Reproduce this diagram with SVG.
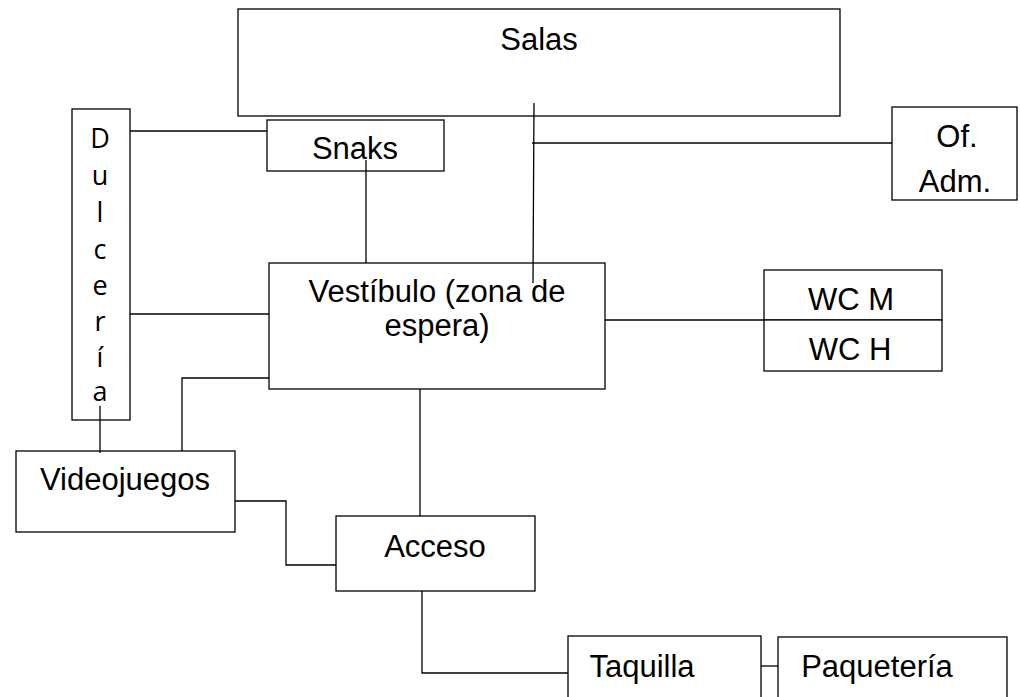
<svg xmlns="http://www.w3.org/2000/svg" width="1020" height="697" viewBox="0 0 1020 697">
<style>
.box{fill:#fff;stroke:#000;stroke-width:1.3}
.lbl{font-family:"Liberation Sans",Arial,sans-serif;font-size:31px;fill:#000;text-anchor:middle}
.v{font-family:"Open Sans","Liberation Sans",sans-serif;font-size:27px;fill:#000;text-anchor:middle}
.c{fill:none;stroke:#000;stroke-width:1.3}
</style>
<rect width="1020" height="697" fill="#fff"/>
<g id="salas"><rect class="box" x="238" y="9" width="602" height="107"/><text class="lbl" x="539" y="50">Salas</text></g>
<g id="snaks"><rect class="box" x="267" y="120" width="177" height="51"/><text class="lbl" x="355" y="159">Snaks</text></g>
<g id="dulceria"><rect class="box" x="72" y="109" width="58" height="311"/>
<text class="v" x="100" y="148">D</text><text class="v" x="100" y="185">u</text><text class="v" x="100" y="222">l</text><text class="v" x="100" y="259">c</text><text class="v" x="100" y="295">e</text><text class="v" x="100" y="331">r</text><text class="v" x="100" y="367">í</text><text class="v" x="100" y="401">a</text></g>
<g id="ofadm"><rect class="box" x="892" y="107" width="125" height="93"/><text class="lbl" x="957" y="147">Of.</text><text class="lbl" x="955" y="192">Adm.</text></g>
<g id="vestibulo"><rect class="box" x="269" y="263" width="336" height="126"/><text class="lbl" x="437" y="302">Vestíbulo (zona de</text><text class="lbl" x="437" y="336">espera)</text></g>
<g id="wcm"><rect class="box" x="764" y="270" width="178" height="50"/><text class="lbl" x="851" y="310">WC M</text></g>
<g id="wch"><rect class="box" x="764" y="320" width="178" height="51"/><text class="lbl" x="850" y="360">WC H</text></g>
<g id="videojuegos"><rect class="box" x="16" y="451" width="219" height="81"/><text class="lbl" x="125" y="490">Videojuegos</text></g>
<g id="acceso"><rect class="box" x="336" y="516" width="199" height="75"/><text class="lbl" x="435" y="557">Acceso</text></g>
<g id="taquilla"><rect class="box" x="568" y="636" width="193" height="70"/><text class="lbl" x="642" y="677">Taquilla</text></g>
<g id="paqueteria"><rect class="box" x="778" y="637" width="229" height="70"/><text class="lbl" x="877" y="677">Paquetería</text></g>
<g id="connectors">
<path class="c" d="M130 131H267"/>
<path class="c" d="M130 314H269"/>
<path class="c" d="M366 160V263"/>
<path class="c" d="M534 103L533 283"/>
<path class="c" d="M532 143H892"/>
<path class="c" d="M605 320H764"/>
<path class="c" d="M269 378H182V451"/>
<path class="c" d="M100 406V453"/>
<path class="c" d="M235 501H286V565H336"/>
<path class="c" d="M420 389V516"/>
<path class="c" d="M422 591V673H568"/>
<path class="c" d="M761 666H778"/>
</g>
</svg>
